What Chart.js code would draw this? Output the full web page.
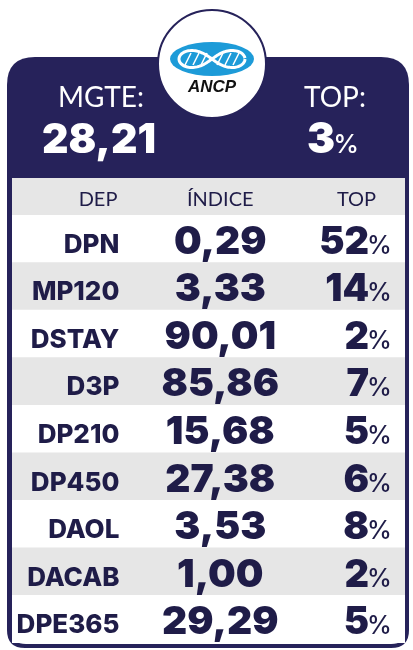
<!DOCTYPE html>
<html>
<head>
<meta charset="utf-8">
<script src="https://cdn.jsdelivr.net/npm/chart.js@4"></script>
<style>
  html, body { margin: 0; padding: 0; background: #ffffff; }
  #wrap { width: 413px; height: 650px; }
</style>
</head>
<body>
<div id="wrap"><canvas id="myChart" width="413" height="650"></canvas></div>
<script>
var departments = ['DPN', 'MP120', 'DSTAY', 'D3P', 'DP210', 'DP450', 'DAOL', 'DACAB', 'DPE365'];
var indexValues = [0.29, 3.33, 90.01, 85.86, 15.68, 27.38, 3.53, 1.00, 29.29];
var topValues = [52, 14, 2, 7, 5, 6, 8, 2, 5];
var columnHeaders = ['DEP', 'ÍNDICE', 'TOP'];
var mgteValue = 28.21;
var mgteTop = 3;

var NAVY = '#26225a';
var INK = '#1f1c48';
var STRIPE = '#e6e6e6';
var FONT = 'Lato, "Open Sans", sans-serif';
var HEAVY = 'Inter, Lato, sans-serif';

function fmt(v) {
    return v.toFixed(2).replace('.', ',');
}

function roundRect(ctx, x, y, w, h, rt, rb) {
    ctx.beginPath();
    ctx.moveTo(x + rt, y);
    ctx.lineTo(x + w - rt, y);
    ctx.quadraticCurveTo(x + w, y, x + w, y + rt);
    ctx.lineTo(x + w, y + h - rb);
    ctx.quadraticCurveTo(x + w, y + h, x + w - rb, y + h);
    ctx.lineTo(x + rb, y + h);
    ctx.quadraticCurveTo(x, y + h, x, y + h - rb);
    ctx.lineTo(x, y + rt);
    ctx.quadraticCurveTo(x, y, x + rt, y);
    ctx.closePath();
}

// number + smaller % sign, right aligned at x
function drawPercent(ctx, value, x, y, bigSize, smallSize) {
    ctx.textAlign = 'right';
    ctx.font = '500 ' + smallSize + 'px ' + HEAVY;
    ctx.fillText('%', x, y);
    var pw = ctx.measureText('%').width;
    ctx.font = '900 ' + bigSize + 'px ' + HEAVY;
    ctx.fillText(String(value), x - pw + 2, y);
}

var cardPlugin = {
    id: 'card',
    beforeDraw: function (chart) {
        var ctx = chart.ctx;
        var area = chart.chartArea;
        ctx.save();
        ctx.fillStyle = '#ffffff';
        ctx.fillRect(0, 0, chart.width, chart.height);
        // navy card
        ctx.fillStyle = NAVY;
        roundRect(ctx, 7, 57, 402, 591, 28, 18);
        ctx.fill();
        // white table panel
        ctx.fillStyle = '#ffffff';
        roundRect(ctx, area.left, 178, area.right - area.left, area.bottom - 178 + 1, 0, 14);
        ctx.fill();
        // column header band
        ctx.fillStyle = STRIPE;
        ctx.fillRect(area.left, 178, area.right - area.left, area.top - 178);
        ctx.restore();
    },
    afterDatasetsDraw: function (chart) {
        var ctx = chart.ctx;
        var xs = chart.scales.x;
        var ys = chart.scales.y;
        var area = chart.chartArea;
        var colX = [xs.getPixelForValue(0.82), xs.getPixelForValue(1.59), xs.getPixelForValue(2.90)];
        ctx.save();
        ctx.fillStyle = INK;
        ctx.textBaseline = 'alphabetic';

        // column headers
        var hy = area.top - 9;
        ctx.font = '400 20px ' + FONT;
        ctx.textAlign = 'right';
        ctx.fillText(columnHeaders[0], colX[0] - 2, hy);
        ctx.textAlign = 'center';
        ctx.fillText(columnHeaders[1], colX[1], hy);
        ctx.fillText(columnHeaders[2], xs.getPixelForValue(2.63), hy);

        // rows
        for (var i = 0; i < departments.length; i++) {
            var y = ys.getPixelForValue(i) + 14;
            ctx.textAlign = 'right';
            ctx.font = '800 26px ' + HEAVY;
            ctx.fillText(departments[i], colX[0], y);
            ctx.textAlign = 'center';
            ctx.font = '900 39px ' + HEAVY;
            ctx.fillText(fmt(indexValues[i]), colX[1], y + 1);
            drawPercent(ctx, topValues[i], colX[2], y + 1, 38, 25);
        }

        // header summary
        ctx.fillStyle = '#ffffff';
        ctx.textAlign = 'center';
        ctx.font = '400 28px ' + FONT;
        ctx.fillText('MGTE:', 101, 107);
        ctx.fillText('TOP:', 335, 107);
        ctx.font = '900 41px ' + HEAVY;
        ctx.fillText(fmt(mgteValue), 99, 153);
        drawPercent(ctx, mgteTop, 359, 153, 42, 26);

        // logo badge
        ctx.beginPath();
        ctx.arc(212, 64, 54, 0, Math.PI * 2);
        ctx.fillStyle = '#ffffff';
        ctx.fill();
        ctx.lineWidth = 2;
        ctx.strokeStyle = NAVY;
        ctx.stroke();

        ctx.beginPath();
        ctx.ellipse(212, 59, 42, 17, 0, 0, Math.PI * 2);
        ctx.fillStyle = '#1d9bd8';
        ctx.fill();
        // white infinity strand
        ctx.strokeStyle = '#ffffff';
        ctx.lineWidth = 3;
        ctx.beginPath();
        for (var t = 0; t <= Math.PI * 2 + 0.01; t += 0.05) {
            var d = 1 + Math.sin(t) * Math.sin(t);
            var px = 212 + 33 * Math.cos(t) / d;
            var py = 59 + 24 * Math.sin(t) * Math.cos(t) / d;
            if (t === 0) ctx.moveTo(px, py); else ctx.lineTo(px, py);
        }
        ctx.stroke();
        ctx.lineWidth = 1.5;
        for (var k = -3; k <= 3; k++) {
            if (k === 0) continue;
            var cx = 212 + k * 8;
            ctx.beginPath();
            ctx.moveTo(cx - 3, 65);
            ctx.lineTo(cx + 3, 53);
            ctx.stroke();
        }
        ctx.fillStyle = '#111111';
        ctx.textAlign = 'center';
        ctx.font = 'italic 900 17px "Liberation Sans", Arial, sans-serif';
        ctx.fillText('ANCP', 212, 92);
        ctx.restore();
    }
};

var ctx = document.getElementById('myChart').getContext('2d');
var myChart = new Chart(ctx, {
    type: 'bar',
    data: {
        labels: departments,
        datasets: [{
            label: 'rows',
            data: departments.map(function () { return [0, 3]; }),
            backgroundColor: departments.map(function (d, i) { return i % 2 ? STRIPE : '#ffffff'; }),
            borderWidth: 0,
            barPercentage: 1,
            categoryPercentage: 1
        }]
    },
    options: {
        indexAxis: 'y',
        responsive: false,
        animation: false,
        devicePixelRatio: 1,
        layout: {
            padding: { left: 12, right: 8, top: 215, bottom: 7 }
        },
        plugins: {
            legend: { display: false },
            tooltip: { enabled: false }
        },
        scales: {
            x: { type: 'linear', min: 0, max: 3, display: false },
            y: { display: false }
        }
    },
    plugins: [cardPlugin]
});
</script>
</body>
</html>
